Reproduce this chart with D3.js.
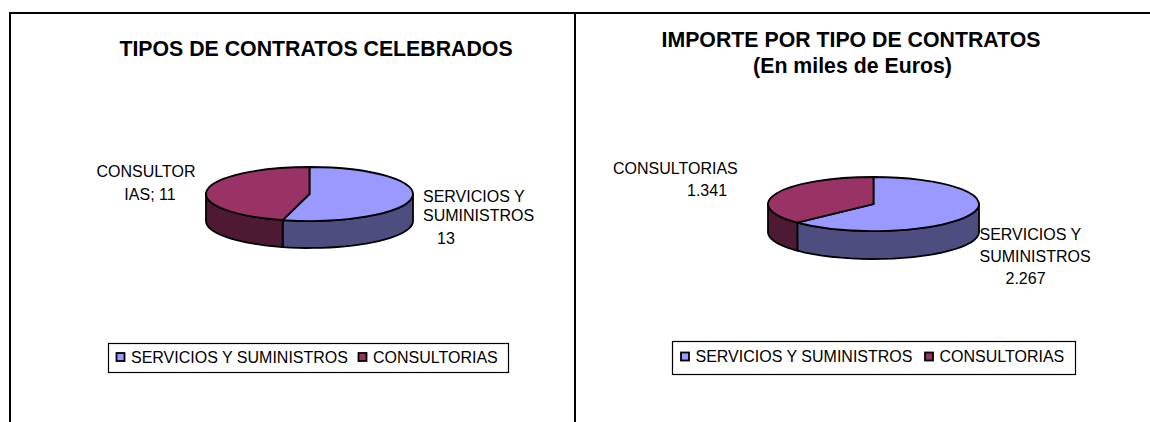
<!DOCTYPE html>
<html lang="en">
<head>
<meta charset="utf-8">
<script src="https://d3js.org/d3.v7.min.js"></script>
<style>
  body { margin: 0; background: #fff; }
  text { font-family: "Liberation Sans", Arial, sans-serif; fill: #000; }
</style>
</head>
<body>
<svg width="1150" height="422"></svg>
<script>
// data
const categories = ["SERVICIOS Y SUMINISTROS", "CONSULTORIAS"];
const contractCounts = [13, 11];
const contractAmounts = [2267, 1341];

const topColors = ["#9999ff", "#993366"];
const sideColors = ["#4d4d80", "#4d1933"];

const svg = d3.select("svg");

// outer frame
const frame = svg.append("g").attr("stroke", "#000").attr("stroke-width", 2);
frame.append("line").attr("x1", 9).attr("x2", 1150).attr("y1", 13).attr("y2", 13);
frame.append("line").attr("x1", 10).attr("x2", 10).attr("y1", 12).attr("y2", 422);
frame.append("line").attr("x1", 575).attr("x2", 575).attr("y1", 12).attr("y2", 422);

// pie with a fake 3d tilt: rx/ry flatten the circle, depth is the wall height
function drawPie(cfg) {
  const g = svg.append("g").attr("transform", "translate(" + cfg.cx + "," + cfg.cy + ")");
  const arcs = d3.pie().sort(null)(cfg.values);
  const px = d3.scaleLinear().domain([-1, 1]).range([-cfg.rx, cfg.rx]);
  const py = d3.scaleLinear().domain([-1, 1]).range([-cfg.ry, cfg.ry]);
  const edge = function (a) { return [px(Math.sin(a)), py(-Math.cos(a))]; };

  // walls, only the front half of the rim shows
  arcs.forEach(function (d, i) {
    const a0 = Math.max(d.startAngle, Math.PI / 2);
    const a1 = Math.min(d.endAngle, Math.PI * 1.5);
    if (a1 <= a0) return;
    const rim = d3.range(0, 25).map(function (k) { return edge(a0 + (a1 - a0) * k / 24); });
    const wall = rim.concat(rim.slice().reverse().map(function (p) { return [p[0], p[1] + cfg.depth]; }));
    g.append("path")
      .attr("d", d3.line()(wall) + "Z")
      .attr("fill", sideColors[i])
      .attr("stroke", "#000")
      .attr("stroke-width", 1.8)
      .attr("stroke-linejoin", "round");
  });

  // top face
  const arc = d3.arc().innerRadius(0).outerRadius(1);
  g.selectAll("path.top").data(arcs).enter().append("path")
    .attr("class", "top")
    .attr("d", arc)
    .attr("transform", "scale(" + cfg.rx + "," + cfg.ry + ")")
    .attr("fill", function (d, i) { return topColors[i]; })
    .attr("stroke", "#000")
    .attr("stroke-width", 1.8)
    .style("vector-effect", "non-scaling-stroke");
}

function addText(lines, size, weight, anchor) {
  lines.forEach(function (l) {
    svg.append("text")
      .attr("x", l[1]).attr("y", l[2])
      .attr("text-anchor", anchor)
      .attr("font-size", size)
      .attr("font-weight", weight)
      .text(l[0]);
  });
}

function drawLegend(x, y, w, h, key0, key1, keyY) {
  const g = svg.append("g");
  g.append("rect").attr("x", x).attr("y", y).attr("width", w).attr("height", h)
    .attr("fill", "#fff").attr("stroke", "#000").attr("stroke-width", 1.2);
  const keyX = d3.scalePoint().domain(categories).range([key0, key1]);
  categories.forEach(function (c, i) {
    g.append("rect").attr("x", keyX(c)).attr("y", keyY).attr("width", 8).attr("height", 8)
      .attr("fill", topColors[i]).attr("stroke", "#000").attr("stroke-width", 1.8);
    g.append("text").attr("x", keyX(c) + 14.5).attr("y", keyY + 9.5)
      .attr("font-size", 16).text(c);
  });
}

drawPie({ values: contractCounts, cx: 309.5, cy: 194, rx: 103.5, ry: 27, depth: 27 });
drawPie({ values: contractAmounts, cx: 873.5, cy: 204, rx: 105.5, ry: 27, depth: 28 });

addText([["TIPOS DE CONTRATOS CELEBRADOS", 316, 56]], 21.3, "bold", "middle");
addText([["IMPORTE POR TIPO DE CONTRATOS", 851, 47], ["(En miles de Euros)", 852.5, 73]], 21.3, "bold", "middle");

addText([["CONSULTOR", 146, 177], ["IAS; 11", 150, 200]], 16, "normal", "middle");
addText([["SERVICIOS Y", 423, 201.5], ["SUMINISTROS", 423, 220.5], ["13", 437, 244]], 16, "normal", "start");
addText([["CONSULTORIAS", 613, 173.5], ["1.341", 687, 196]], 16, "normal", "start");
addText([["SERVICIOS Y", 979.5, 239.5], ["SUMINISTROS", 979.5, 261.5], ["2.267", 1005.5, 284]], 16, "normal", "start");

drawLegend(108.5, 343.5, 400, 29, 116.5, 358.5, 353);
drawLegend(672.5, 341.5, 403, 33, 681, 925, 352.5);
</script>
</body>
</html>
